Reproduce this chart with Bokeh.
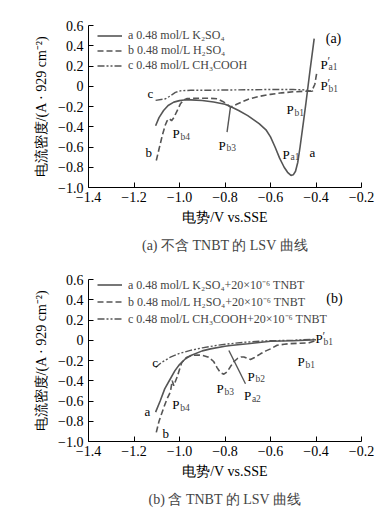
from bokeh.plotting import figure
from bokeh.models import (Label, Legend, LegendItem, FixedTicker, Title, Range1d)
from bokeh.layouts import column
from bokeh.embed import file_html
from bokeh.resources import INLINE

# ---------------- data (a) without TNBT ----------------
a1_v = [-1.105, -1.09, -1.07, -1.05, -1.025, -1.0, -0.98, -0.95, -0.9, -0.85, -0.8, -0.776, -0.74,
        -0.70, -0.65, -0.62, -0.60, -0.58, -0.56, -0.54, -0.525, -0.51, -0.50, -0.49, -0.48, -0.47,
        -0.455, -0.445, -0.435, -0.425, -0.415, -0.408]
a1_i = [-0.39, -0.31, -0.24, -0.19, -0.157, -0.142, -0.135, -0.135, -0.141, -0.155, -0.178, -0.20, -0.24,
        -0.29, -0.37, -0.43, -0.50, -0.60, -0.71, -0.80, -0.85, -0.88, -0.875, -0.84, -0.75, -0.60,
        -0.35, -0.18, 0.0, 0.18, 0.35, 0.47]
b1_v = [-1.102, -1.09, -1.075, -1.062, -1.054, -1.045, -1.035, -1.025, -1.01, -0.995, -0.98, -0.966,
        -0.92, -0.87, -0.834, -0.81, -0.79, -0.776, -0.76, -0.746, -0.70, -0.65, -0.60, -0.55, -0.50,
        -0.45, -0.425, -0.415, -0.405, -0.40, -0.395]
b1_i = [-0.733, -0.62, -0.48, -0.38, -0.34, -0.32, -0.34, -0.31, -0.24, -0.17, -0.135, -0.122,
        -0.118, -0.118, -0.124, -0.15, -0.18, -0.205, -0.19, -0.175, -0.13, -0.10, -0.08, -0.065, -0.055,
        -0.05, -0.05, -0.03, 0.02, 0.09, 0.15]
c1_v = [-1.105, -1.062, -1.04, -1.018, -0.995, -0.974, -0.95, -0.9, -0.8, -0.7, -0.6, -0.5, -0.45, -0.42, -0.41]
c1_i = [-0.14, -0.124, -0.095, -0.06, -0.045, -0.042, -0.04, -0.04, -0.037, -0.035, -0.032, -0.032, -0.036, -0.05, -0.045]

# ---------------- data (b) with TNBT ----------------
a2_v = [-1.105, -1.085, -1.065, -1.045, -1.02, -1.0, -0.975, -0.95, -0.9, -0.864, -0.8, -0.776, -0.7,
        -0.6, -0.5, -0.4]
a2_i = [-0.71, -0.60, -0.48, -0.40, -0.30, -0.24, -0.185, -0.15, -0.105, -0.085, -0.06, -0.052, -0.035,
        -0.01, -0.005, 0.005]
b2_v = [-1.102, -1.09, -1.07, -1.055, -1.04, -1.032, -1.025, -1.017, -1.01, -1.0, -0.99, -0.97, -0.944,
        -0.92, -0.9, -0.872, -0.85, -0.835, -0.82, -0.805, -0.79, -0.776, -0.76, -0.745, -0.73, -0.717,
        -0.70, -0.688, -0.67, -0.644, -0.62, -0.6, -0.571, -0.54, -0.512, -0.47, -0.43, -0.41, -0.402]
b2_i = [-0.91, -0.80, -0.67, -0.58, -0.51, -0.40, -0.45, -0.40, -0.36, -0.29, -0.22, -0.17, -0.15,
        -0.145, -0.148, -0.167, -0.21, -0.27, -0.32, -0.335, -0.31, -0.26, -0.21, -0.18, -0.165, -0.165,
        -0.18, -0.19, -0.17, -0.134, -0.105, -0.085, -0.05, -0.04, -0.033, -0.03, -0.025, -0.01, 0.014]
c2_v = [-1.105, -1.08, -1.04, -1.0, -0.952, -0.9, -0.834, -0.78, -0.717, -0.65, -0.6, -0.5, -0.4]
c2_i = [-0.27, -0.22, -0.167, -0.13, -0.10, -0.075, -0.05, -0.035, -0.02, -0.01, -0.005, 0.0, 0.01]

x_ticks = [-1.4, -1.2, -1.0, -0.8, -0.6, -0.4, -0.2]
y_ticks = [-1.0, -0.8, -0.6, -0.4, -0.2, 0.0, 0.2, 0.4, 0.6]

legend1 = ["a 0.48 mol/L K\u2082SO\u2084", "b 0.48 mol/L H\u2082SO\u2084", "c 0.48 mol/L CH\u2083COOH"]
legend2 = ["a 0.48 mol/L K\u2082SO\u2084+20\u00d710\u207b\u2076 TNBT",
           "b 0.48 mol/L H\u2082SO\u2084+20\u00d710\u207b\u2076 TNBT",
           "c 0.48 mol/L CH\u2083COOH+20\u00d710\u207b\u2076 TNBT"]
captions = ["(a) 不含 TNBT 的 LSV 曲线", "(b) 含 TNBT 的 LSV 曲线"]

SERIF = "Liberation Serif"
COL = "#555555"


def fmt(t):
    if abs(t) < 1e-9:
        return "0"
    s = "%.1f" % abs(t)
    return ("\u2212" + s) if t < 0 else s


def make_fig(top, bottom, caption):
    p = figure(frame_width=273, frame_height=162, output_backend="svg", toolbar_location=None,
               x_range=Range1d(-1.4, -0.2), y_range=Range1d(-1.0, 0.6),
               min_border_left=88, min_border_right=22, min_border_top=top, min_border_bottom=bottom)
    p.outline_line_color = None
    p.xgrid.visible = False
    p.ygrid.visible = False
    for ax, ticks in ((p.xaxis[0], x_ticks), (p.yaxis[0], y_ticks)):
        ax.ticker = FixedTicker(ticks=ticks)
        ax.major_label_overrides = {t: fmt(t) for t in ticks}
        ax.major_tick_in = 5
        ax.major_tick_out = 0
        ax.minor_tick_in = 0
        ax.minor_tick_out = 0
        ax.axis_line_color = "black"
        ax.major_tick_line_color = "black"
        ax.major_label_text_font = SERIF
        ax.major_label_text_font_size = "14px"
        ax.major_label_text_color = "black"
        ax.axis_label_text_font = SERIF
        ax.axis_label_text_font_size = "14px"
        ax.axis_label_text_font_style = "normal"
        ax.axis_label_text_color = "black"
    p.xaxis.major_label_standoff = 4
    p.yaxis.major_label_standoff = 5
    p.xaxis.axis_label = "电势/V vs.SSE"
    p.yaxis.axis_label = "电流密度/(A \u00b7 929 cm\u207b\u00b2)"
    p.xaxis.axis_label_standoff = 5
    p.yaxis.axis_label_standoff = 6
    p.add_layout(Title(text=caption, align="center", text_font=SERIF, text_font_size="14px",
                       text_font_style="normal", standoff=16), "below")
    return p


def add_curves(p, data, labels):
    (av, ai), (bv, bi), (cv, ci) = data
    ra = p.line(av, ai, line_color=COL, line_width=1.6)
    rb = p.line(bv, bi, line_color=COL, line_width=1.6, line_dash="6 3")
    rc = p.line(cv, ci, line_color=COL, line_width=1.4, line_dash="7 2 2 2 2 2")
    leg = Legend(items=[LegendItem(label=labels[0], renderers=[ra]),
                        LegendItem(label=labels[1], renderers=[rb]),
                        LegendItem(label=labels[2], renderers=[rc])],
                 location=(9, 114), padding=0, margin=0, spacing=0,
                 glyph_width=25, glyph_height=15, label_height=15, label_standoff=6,
                 label_text_font=SERIF, label_text_font_size="12px",
                 background_fill_alpha=0, border_line_alpha=0)
    p.add_layout(leg)


def txt(p, x, y, s, size="13px", align="left"):
    p.add_layout(Label(x=x, y=y, text=s, text_font=SERIF, text_font_size=size,
                       text_baseline="alphabetic", text_align=align, text_color="black"))


def plab(p, x, y, sub, prime=False):
    txt(p, x, y, "P")
    if prime:
        p.add_layout(Label(x=x, y=y, x_offset=7, y_offset=3, text="\u2032", text_font=SERIF,
                           text_font_size="12px", text_baseline="alphabetic"))
    p.add_layout(Label(x=x, y=y, x_offset=8, y_offset=-3, text=sub, text_font=SERIF,
                       text_font_size="9.5px", text_baseline="alphabetic"))


# ---------------- figure (a) ----------------
p1 = make_fig(25, 75, captions[0])
add_curves(p1, ((a1_v, a1_i), (b1_v, b1_i), (c1_v, c1_i)), legend1)
p1.line([-0.791, -0.776], [-0.454, -0.207], line_color=COL, line_width=1.4)
txt(p1, -0.323, 0.472, "(a)", size="14px", align="center")
plab(p1, -0.380, 0.215, "a1", prime=True)
plab(p1, -0.380, 0.007, "b1", prime=True)
plab(p1, -0.530, -0.230, "b1")
plab(p1, -0.547, -0.674, "a1")
txt(p1, -0.429, -0.654, "a")
plab(p1, -0.829, -0.585, "b3")
plab(p1, -1.031, -0.467, "b4")
txt(p1, -1.149, -0.654, "b")
txt(p1, -1.141, -0.072, "c")

# ---------------- figure (b) ----------------
p2 = make_fig(17, 66, captions[1])
add_curves(p2, ((a2_v, a2_i), (b2_v, b2_i), (c2_v, c2_i)), legend2)
p2.line([-0.783, -0.710], [-0.101, -0.430], line_color=COL, line_width=1.4)
txt(p2, -0.319, 0.412, "(b)", size="14px", align="center")
plab(p2, -0.402, 0.017, "b1", prime=True)
plab(p2, -0.481, -0.210, "b1")
plab(p2, -0.701, -0.358, "b2")
plab(p2, -0.717, -0.546, "a2")
plab(p2, -0.837, -0.477, "b3")
plab(p2, -1.032, -0.635, "b4")
txt(p2, -1.154, -0.704, "a")
txt(p2, -1.075, -0.921, "b")
txt(p2, -1.120, -0.220, "c")

layout = column(p1, p2, spacing=0)
open("out.html", "w").write(file_html(layout, INLINE))
